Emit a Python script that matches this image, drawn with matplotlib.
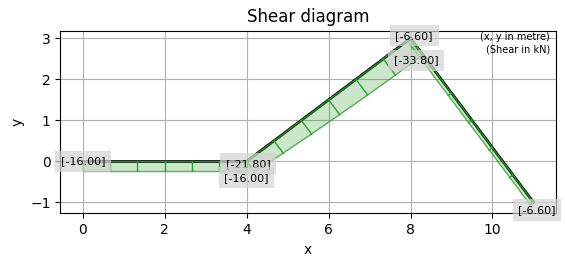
import numpy as np
import matplotlib
matplotlib.use('Agg')
import matplotlib.pyplot as plt

# frame geometry (metre)
node_x = [0.0, 4.0, 8.0, 11.0]
node_y = [0.0, 0.0, 3.0, -1.0]
members = [(0, 1), (1, 2), (2, 3)]

# shear (kN) read at 7 stations along each member
shear = [
    [-16.0, -16.0, -16.0, -16.0, -16.0, -16.0, -16.0],
    [-21.8, -25.0, -27.8, -30.0, -31.8, -33.0, -33.8],
    [-6.6, -6.6, -6.6, -6.6, -6.6, -6.6, -6.6],
]

label_text = ['[-16.00]', '[-21.80]', '[-16.00]', '[-6.60]', '[-33.80]', '[-6.60]']
label_pos = [(0.0, 0.0), (4.04, -0.06), (4.0, -0.40),
             (8.09, 3.06), (8.13, 2.47), (11.09, -1.19)]

SCALE = 0.015  # metre of offset per kN

fig = plt.figure(figsize=(5.65, 2.66), dpi=100)
ax = fig.add_axes([0.1067, 0.198, 0.8773, 0.687])

for (i, j), v in zip(members, shear):
    p0 = np.array([node_x[i], node_y[i]])
    p1 = np.array([node_x[j], node_y[j]])
    d = p1 - p0
    L = np.hypot(*d)
    n = np.array([-d[1], d[0]]) / L
    t = np.linspace(0, 1, len(v))
    base = p0 + np.outer(t, d)
    off = base + np.outer(np.array(v) * SCALE, n)
    # member itself first, diagram drawn over it
    ax.plot([p0[0], p1[0]], [p0[1], p1[1]], color='black', lw=2, zorder=2)
    poly = np.vstack([p0, off, p1, p0])
    ax.fill(poly[:, 0], poly[:, 1], color='tab:green', alpha=0.25, lw=0, zorder=2.5)
    ax.plot(poly[:, 0], poly[:, 1], color='tab:green', lw=1, alpha=0.8, zorder=3)
    for b, o in zip(base, off):
        ax.plot([b[0], o[0]], [b[1], o[1]], color='tab:green', lw=1, zorder=3)

for s, (x, y) in zip(label_text, label_pos):
    ax.text(x, y, s, fontsize=8, ha='center', va='center', zorder=4,
            bbox=dict(boxstyle='square,pad=0.5', facecolor='lightgrey',
                      edgecolor='none', alpha=0.7))

ax.text(0.988, 0.99, '(x, y in metre)\n(Shear in kN)', fontsize=7,
        ha='right', va='top', transform=ax.transAxes)

ax.set_xlim(-0.55, 11.55)
ax.set_ylim(-1.27, 3.19)
ax.set_aspect('equal')
ax.grid(True)
ax.set_title('Shear diagram')
ax.set_xlabel('x')
ax.set_ylabel('y')

fig.savefig('out.png', dpi=100)
